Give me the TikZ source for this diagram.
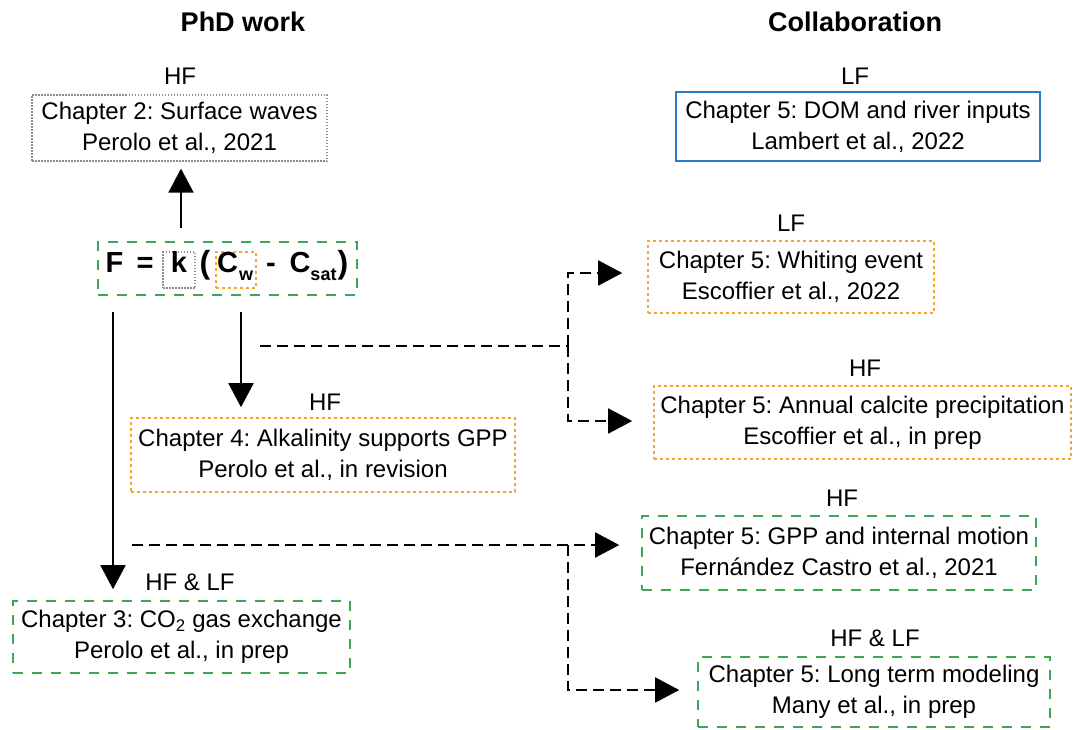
\documentclass[tikz,border=0pt]{standalone}
\usepackage{fontspec}
\setmainfont{Liberation Sans}
\usetikzlibrary{arrows.meta}
\frenchspacing
\definecolor{boxgreen}{RGB}{60,168,85}
\definecolor{boxorange}{RGB}{245,166,45}
\definecolor{boxgray}{RGB}{140,140,140}
\definecolor{boxblue}{RGB}{40,125,200}
\tikzset{
  lbl/.style={font=\fontsize{24}{31}\selectfont, inner sep=0pt},
  ttl/.style={font=\fontsize{27}{32}\selectfont\bfseries, inner sep=0pt},
  chap/.style={font=\fontsize{24}{31}\selectfont, align=center, inner sep=0pt, line width=1.6pt},
  grn/.style={chap, draw=boxgreen, dash pattern=on 10pt off 9pt},
  org/.style={chap, draw=boxorange, dash pattern=on 3pt off 3pt},
  gry/.style={chap, draw=boxgray, dash pattern=on 1.5pt off 1.5pt, line width=1.2pt},
  blu/.style={chap, draw=boxblue},
  arr/.style={line width=1.8pt, -{Triangle[length=24pt,width=25pt]}},
  dline/.style={line width=1.8pt, dash pattern=on 11pt off 6pt},
  darr/.style={arr, dash pattern=on 11pt off 6pt},
  eqt/.style={font=\fontsize{29}{34}\selectfont\bfseries, anchor=base, inner sep=0pt},
  eqs/.style={font=\fontsize{18}{22}\selectfont\bfseries, anchor=base, inner sep=0pt},
}
\begin{document}
\begin{tikzpicture}[x=1pt,y=-1pt]
\useasboundingbox (0,0) rectangle (1073,729);

% titles
\node[ttl] (t1) at (243,22) {PhD work};
\node[ttl] (t2) at (855,22) {Collaboration};

% left column boxes
\node[gry, minimum width=295pt, minimum height=66pt] (ch2) at (179.5,128) {Chapter 2: Surface waves\\Perolo et al., 2021};
\node[lbl] (l2) at (180,76) {HF};

\node[grn, minimum width=259pt, minimum height=53pt] (eq) at (227.5,268.5) {};
\node[eqt] (eF) at (114.5,272) {F};
\node[eqt] (eE) at (145,272) {=};
\node[gry, minimum width=32pt, minimum height=36pt] (kbox) at (179,270) {};
\node[eqt] (eK) at (179,272) {k};
\node[eqt, font=\fontsize{32}{34}\selectfont\bfseries] (eP1) at (205,273) {(};
\node[org, minimum width=40pt, minimum height=36pt] (cbox) at (236,270) {};
\node[eqt] (eC1) at (227.5,272) {C};
\node[eqs] (eW) at (246,280) {w};
\node[eqt] (eM) at (271,272) {-};
\node[eqt] (eC2) at (300,272) {C};
\node[eqs] (eS) at (323.5,280) {sat};
\node[eqt, font=\fontsize{32}{34}\selectfont\bfseries] (eP2) at (343,273) {)};

\node[org, minimum width=384pt, minimum height=74pt] (ch4) at (323,455) {Chapter 4: Alkalinity supports GPP\\Perolo et al., in revision};
\node[lbl] (l4) at (325,402) {HF};

\node[grn, minimum width=337pt, minimum height=72pt] (ch3) at (181.5,637) {Chapter 3: CO\textsubscript{2} gas exchange\\Perolo et al., in prep};
\node[lbl] (l3) at (190,582) {HF \& LF};

% right column boxes
\node[blu, minimum width=364pt, minimum height=69pt] (dom) at (858,126.5) {Chapter 5: DOM and river inputs\\Lambert et al., 2022};
\node[lbl] (l5a) at (855,76) {LF};

\node[org, minimum width=286pt, minimum height=72pt] (whit) at (791,277) {Chapter 5: Whiting event\\Escoffier et al., 2022};
\node[lbl] (l5b) at (791,223) {LF};

\node[org, minimum width=417pt, minimum height=73pt] (calc) at (862.5,422.5) {Chapter 5: Annual calcite precipitation\\Escoffier et al., in prep};
\node[lbl] (l5c) at (865,368) {HF};

\node[grn, minimum width=394pt, minimum height=74pt] (gpp) at (839,553) {Chapter 5: GPP and internal motion\\Fernández Castro et al., 2021};
\node[lbl] (l5d) at (842,498) {HF};

\node[grn, minimum width=352pt, minimum height=70pt] (lt) at (874,692) {Chapter 5: Long term modeling\\Many et al., in prep};
\node[lbl] (l5e) at (875,638) {HF \& LF};

% solid arrows
\coordinate (a1) at (181,228);
\draw[arr, shorten >=7pt] (a1) -- (a1 |- ch2.south);
\coordinate (a2) at (241,312);
\draw[arr, shorten >=10pt] (a2) -- (a2 |- ch4.north);
\coordinate (a3) at (113,312);
\draw[arr, shorten >=11pt] (a3) -- (a3 |- ch3.north);

% dashed connectors
\coordinate (s1) at (260,346);
\coordinate (j1) at (568,346);
\draw[dline] (s1) -- (j1);
\draw[darr, shorten >=25pt] (j1) |- ([yshift=4pt]whit.west);
\draw[darr, shorten >=21pt] (j1) |- ([yshift=1.5pt]calc.west);

\coordinate (s2) at (132,545);
\coordinate (j2) at (568,545);
\draw[darr, shorten >=22pt] (s2) -- ([yshift=8pt]gpp.west);
\draw[darr, shorten >=18pt] (j2) |- ([yshift=2pt]lt.west);
\end{tikzpicture}
\end{document}
